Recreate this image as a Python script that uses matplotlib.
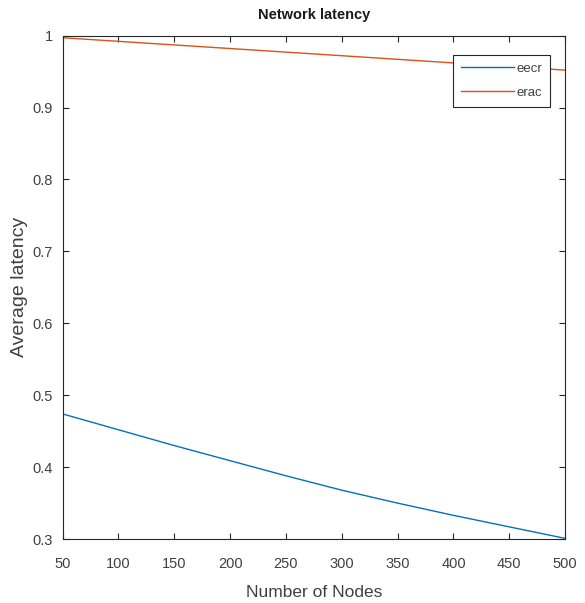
import matplotlib
matplotlib.use("Agg")
import matplotlib.pyplot as plt

nodes = [50, 100, 150, 200, 250, 300, 350, 400, 450, 500]
eecr = [0.474, 0.452, 0.430, 0.409, 0.388, 0.368, 0.350, 0.333, 0.317, 0.301]
erac = [0.997, 0.992, 0.987, 0.982, 0.977, 0.972, 0.967, 0.962, 0.957, 0.952]
series_names = ["eecr", "erac"]
xticks = [50, 100, 150, 200, 250, 300, 350, 400, 450, 500]
yticks = [0.3, 0.4, 0.5, 0.6, 0.7, 0.8, 0.9, 1.0]
ytick_labels = ["0.3", "0.4", "0.5", "0.6", "0.7", "0.8", "0.9", "1"]

plt.rcParams['font.family'] = ['Liberation Sans Narrow', 'Liberation Sans', 'DejaVu Sans']

fig = plt.figure(figsize=(5.85, 6.03), dpi=100)
ax = fig.add_axes([0.107, 0.106, 0.859, 0.835])

ax.plot(nodes, eecr, color="#0072BD", lw=1.0, label=series_names[0])
ax.plot(nodes, erac, color="#D95319", lw=1.0, label=series_names[1])

ax.set_xlim(50, 500)
ax.set_ylim(0.3, 1.0)
ax.set_xticks(xticks)
ax.set_yticks(yticks)
ax.set_yticklabels(ytick_labels)
ax.tick_params(direction="in", top=True, right=True, length=4, width=0.8,
               labelsize=10.5, colors="#262626", labelcolor="#404040")
ax.tick_params(axis="x", pad=13)
ax.tick_params(axis="y", pad=7)
for s in ax.spines.values():
    s.set_color("#262626")
    s.set_linewidth(0.8)

ax.set_title("Network latency", fontsize=10.5, fontweight="bold", color="#1a1a1a", pad=12)
ax.set_xlabel("Number of Nodes", fontsize=12.5, color="#404040", labelpad=10)
ax.set_ylabel("Average latency", fontsize=14, color="#404040", labelpad=3)

leg = ax.legend(loc="upper right", bbox_to_anchor=(0.970, 0.962), fontsize=9.5,
                frameon=True, fancybox=False, edgecolor="#262626", framealpha=1.0,
                handlelength=4.0, handletextpad=0.2, borderpad=0.6,
                labelspacing=0.9, borderaxespad=0)
leg.get_frame().set_linewidth(0.8)
for t in leg.get_texts():
    t.set_color("#404040")

fig.savefig("out.png", dpi=100, facecolor="white")
